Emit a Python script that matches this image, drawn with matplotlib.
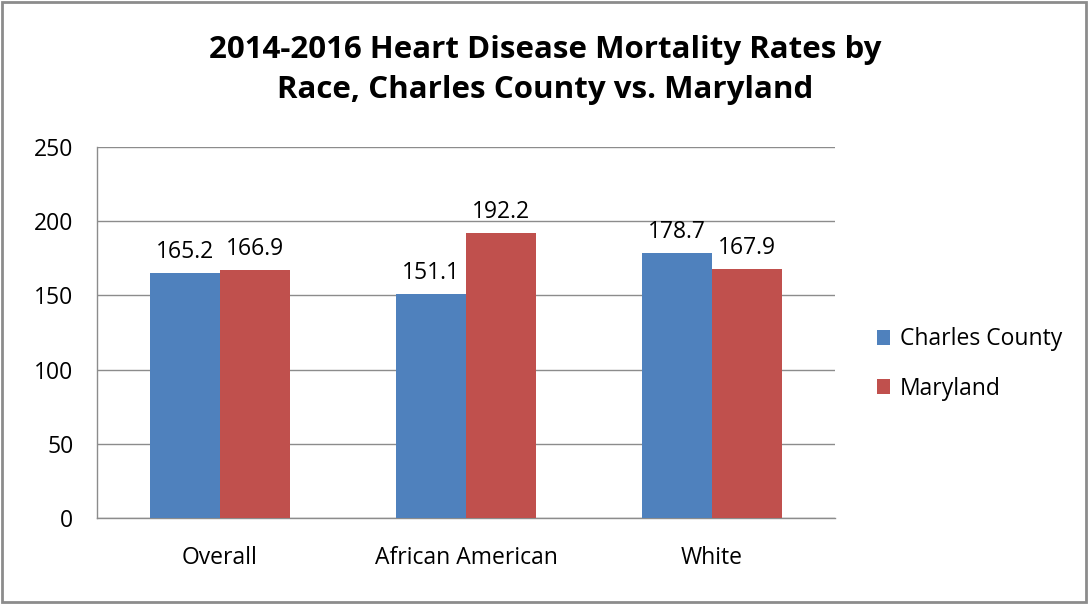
import matplotlib
matplotlib.use("Agg")
import matplotlib.pyplot as plt
import numpy as np
from matplotlib.patches import Rectangle

categories = ["Overall", "African American", "White"]
charles = [165.2, 151.1, 178.7]
maryland = [166.9, 192.2, 167.9]
series_names = ["Charles County", "Maryland"]
yticks = [0, 50, 100, 150, 200, 250]

BLUE = "#4F81BD"
RED = "#C0504D"
FONT = "Open Sans"
FS = 16.5

fig = plt.figure(figsize=(10.9, 6.04), dpi=100)
fig.patches.append(Rectangle((0.002, 0.004), 0.994, 0.992, transform=fig.transFigure,
                             fill=False, edgecolor="#8c8c8c", linewidth=2))
ax = fig.add_axes([97/1090, 1-518/604, (835-97)/1090, (518-147)/604])

x = np.arange(len(categories))
w = 0.285
b1 = ax.bar(x - w/2, charles, w, color=BLUE, label=series_names[0], zorder=3)
b2 = ax.bar(x + w/2, maryland, w, color=RED, label=series_names[1], zorder=3)

for bars, vals in ((b1, charles), (b2, maryland)):
    for r, v in zip(bars, vals):
        ax.text(r.get_x() + r.get_width()/2, v + 6, f"{v:.1f}", ha="center", va="bottom",
                fontsize=FS, family=FONT, color="#000000")

ax.set_xlim(-0.5, 2.5)
ax.set_ylim(0, 250)
ax.set_yticks(yticks)
ax.set_yticklabels([str(t) for t in yticks], family=FONT, fontsize=FS)
ax.set_xticks(x)
ax.set_xticklabels(categories, family=FONT, fontsize=FS)
ax.tick_params(axis="both", length=0)
ax.tick_params(axis="y", pad=17)
ax.tick_params(axis="x", pad=20)
ax.grid(axis="y", color="#8c8c8c", linewidth=1, zorder=0)
for s in ["top", "right"]:
    ax.spines[s].set_visible(False)
for s in ["left", "bottom"]:
    ax.spines[s].set_color("#8c8c8c")
    ax.spines[s].set_linewidth(1)

leg = fig.legend(handles=[b1, b2], labels=series_names, loc="center left",
                 bbox_to_anchor=(856/1090, 1-364/604), frameon=False,
                 prop={"family": FONT, "size": FS}, handlelength=0.6, handleheight=0.6,
                 handletextpad=0.4, labelspacing=1.1)

fig.text(545/1090, 1-70/604, "2014-2016 Heart Disease Mortality Rates by\nRace, Charles County vs. Maryland",
         ha="center", va="center", family=FONT, fontweight="bold", fontsize=22.5,
         linespacing=1.42)

fig.savefig("out.png", dpi=100)
